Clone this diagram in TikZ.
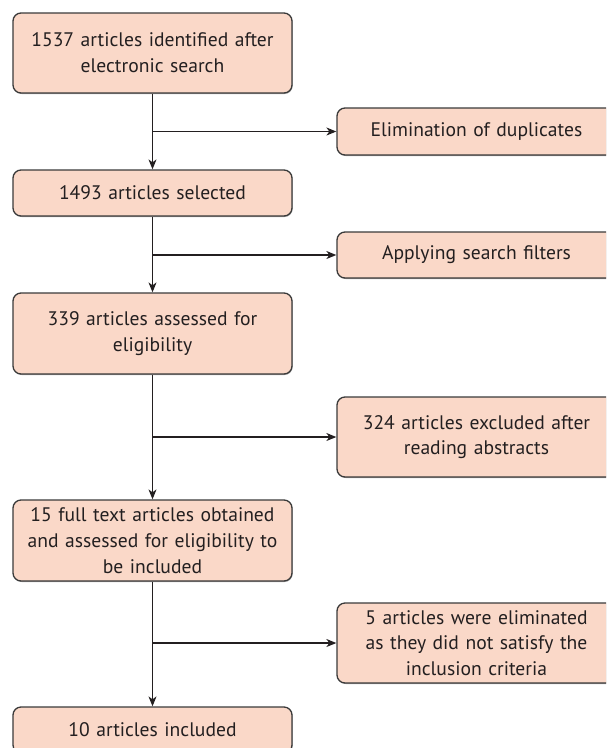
\documentclass[tikz,border=0pt]{standalone}
\usepackage{fontspec}
\setmainfont{PT Sans}
\usetikzlibrary{arrows.meta,shadows}
\definecolor{boxfill}{HTML}{FAD8C8}
\definecolor{boxline}{HTML}{3A3A3A}
\definecolor{txt}{HTML}{231F20}
\tikzset{
  stepbox/.style={rectangle, rounded corners=8pt, draw=boxline, line width=1.3pt,
    fill=boxfill, text=txt, align=center, text width=274pt, inner sep=0pt,
    minimum width=279pt, font=\fontsize{19.6}{25.8}\selectfont,
    drop shadow={shadow xshift=0.6pt, shadow yshift=-1pt, fill=black!35, opacity=1}},
  arr/.style={draw=txt, line width=1.2pt, -{Stealth[length=10pt,width=8pt,inset=3pt]}},
  ln/.style={draw=txt, line width=1.2pt}
}
\begin{document}
\begin{tikzpicture}[x=1pt,y=-1pt]
\useasboundingbox (0,0) rectangle (606,748);
\clip (0,0) rectangle (606,748);
\node[stepbox, minimum height=80pt] (b1) at (152.5,53) {1537 articles identified after\\electronic search};
\node[stepbox, minimum height=46pt] (b2) at (152.5,193) {1493 articles selected};
\node[stepbox, minimum height=81pt] (b3) at (152.5,333.5) {339 articles assessed for\\eligibility};
\node[stepbox, minimum height=81pt] (b4) at (152.5,540.5) {15 full text articles obtained\\and assessed for eligibility to\\be included};
\node[stepbox, minimum height=46pt] (b5) at (152.5,730) {10 articles included};
\node[stepbox, minimum height=47pt] (r1) at (476.5,131.5) {Elimination of duplicates};
\node[stepbox, minimum height=46pt] (r2) at (476.5,255) {Applying search filters};
\node[stepbox, minimum height=80pt] (r3) at (476.5,437) {324 articles excluded after\\reading abstracts};
\node[stepbox, minimum height=80pt] (r4) at (476.5,643) {5 articles were eliminated\\as they did not satisfy the\\inclusion criteria};
\coordinate (j1) at (b1.south |- r1.west);
\coordinate (j2) at (b2.south |- r2.west);
\coordinate (j3) at (b3.south |- r3.west);
\coordinate (j4) at (b4.south |- r4.west);
\draw[arr] (b1.south) -- (b2.north);
\draw[arr] (b2.south) -- (b3.north);
\draw[arr] (b3.south) -- (b4.north);
\draw[arr] (b4.south) -- (b5.north);
\draw[arr] (j1) -- (r1.west);
\draw[arr] (j2) -- (r2.west);
\draw[arr] (j3) -- (r3.west);
\draw[arr] (j4) -- (r4.west);
\end{tikzpicture}
\end{document}
